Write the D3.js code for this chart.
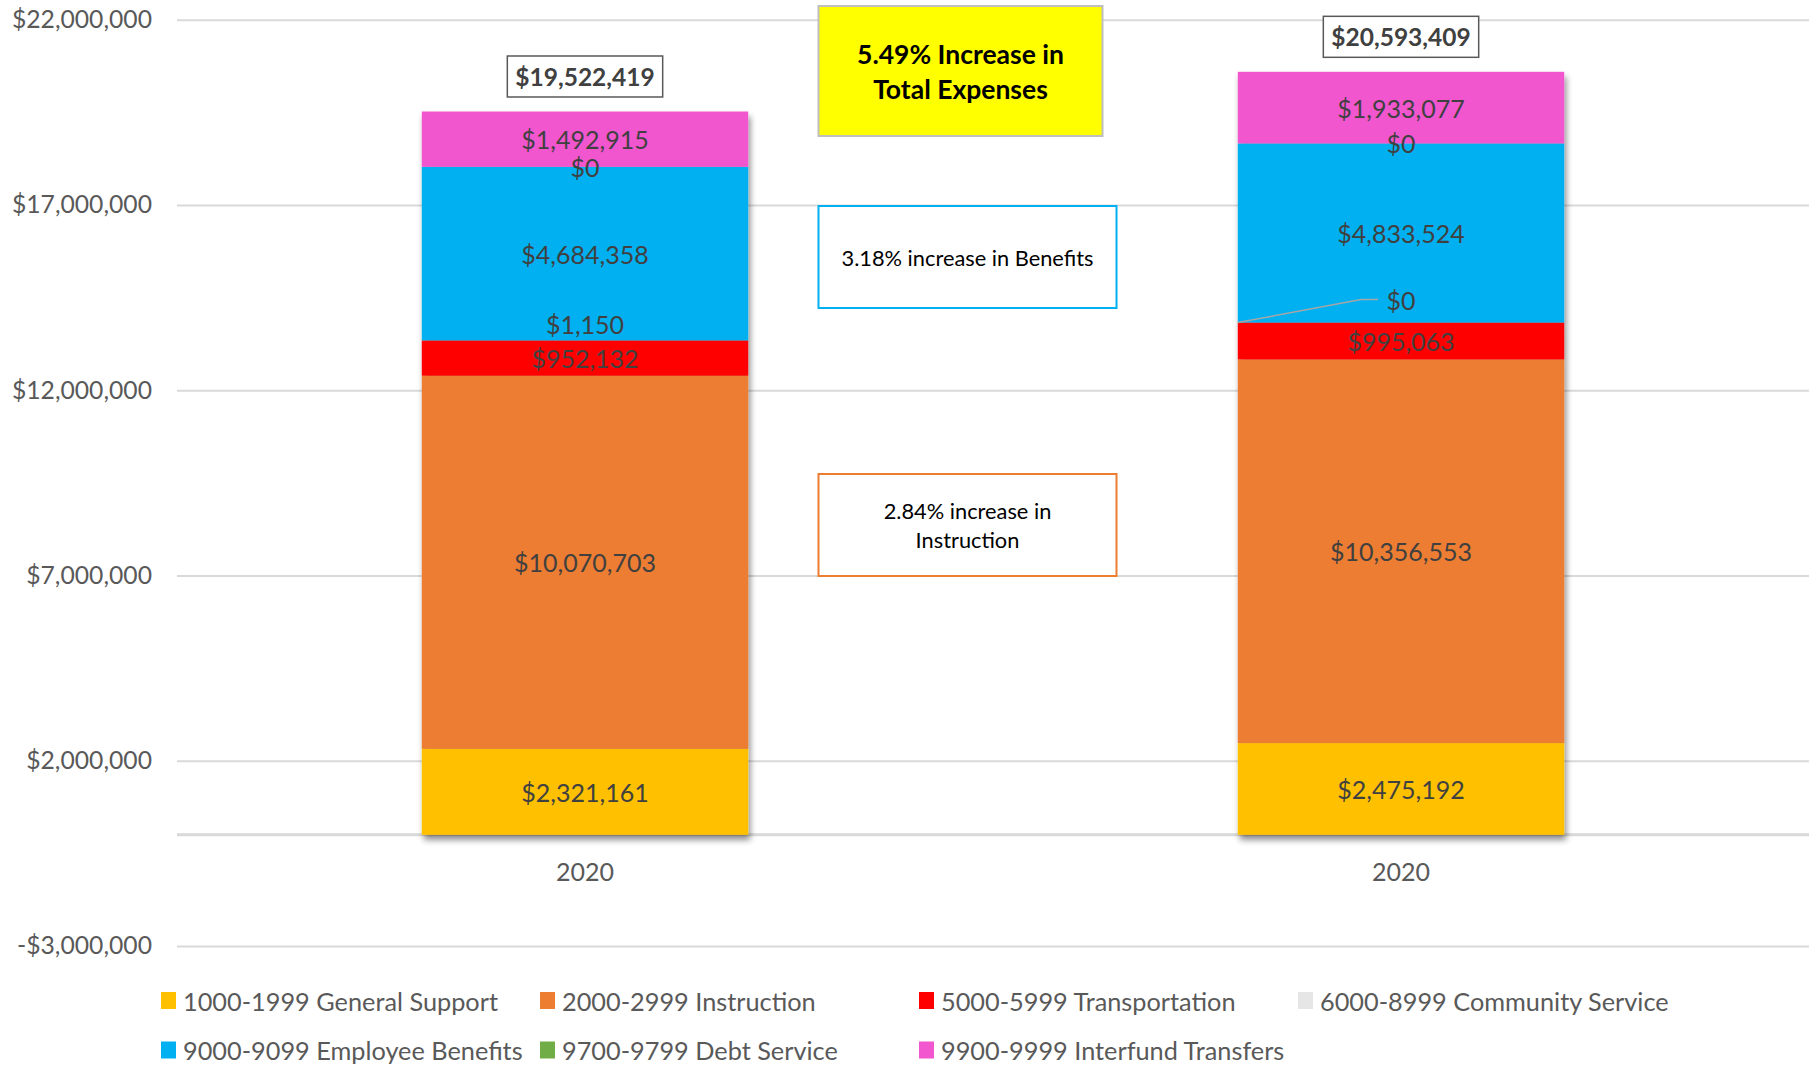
<!DOCTYPE html>
<html>
<head>
<meta charset="utf-8">
<script src="https://cdn.jsdelivr.net/npm/d3@7"></script>
<style>
  body { margin: 0; background: #fff; }
  svg { display: block; font-family: Lato, "Open Sans", sans-serif; }
</style>
</head>
<body>
<svg id="chart" width="1818" height="1067"></svg>
<script>
// Chart data
const years = ["2020", "2020"];
const series = [
    "1000-1999 General Support",
    "2000-2999 Instruction",
    "5000-5999 Transportation",
    "6000-8999 Community Service",
    "9000-9099 Employee Benefits",
    "9700-9799 Debt Service",
    "9900-9999 Interfund Transfers"
];
const generalSupport = [2321161, 2475192];
const instruction = [10070703, 10356553];
const transportation = [952132, 995063];
const communityService = [1150, 0];
const employeeBenefits = [4684358, 4833524];
const debtService = [0, 0];
const interfundTransfers = [1492915, 1933077];
const totals = [19522419, 20593409];
const tickValues = [-3000000, 2000000, 7000000, 12000000, 17000000, 22000000];
const notes = [
    ["5.49% Increase in", "Total Expenses"],
    ["3.18% increase in Benefits"],
    ["2.84% increase in", "Instruction"]
];

const colors = ["#FFC000", "#ED7D31", "#FF0000", "#E7E6E6", "#00B0F0", "#70AD47", "#F257CF"];
const columns = [generalSupport, instruction, transportation, communityService,
                 employeeBenefits, debtService, interfundTransfers];

// Build rows for the stack layout
const rows = years.map((y, i) => {
    let r = { idx: i };
    series.forEach((s, j) => r[s] = columns[j][i]);
    return r;
});

const svg = d3.select("#chart");
const left = 177, right = 1809;

let x = d3.scaleBand()
    .domain(d3.range(years.length))
    .range([left, right])
    .paddingInner(0.6)
    .paddingOuter(0.3);

let y = d3.scaleLinear()
    .domain([-3000000, 22000000])
    .range([946, 19.7]);

const money = d3.format("$,");
const fmt = v => v < 0 ? "-" + money(-v) : money(v);

// Shadow for bars
const defs = svg.append("defs");
defs.append("filter").attr("id", "shadow")
    .attr("x", "-10%").attr("y", "-10%").attr("width", "130%").attr("height", "130%")
    .append("feDropShadow")
    .attr("dx", 2).attr("dy", 5).attr("stdDeviation", 3)
    .attr("flood-color", "#000").attr("flood-opacity", 0.45);

// Gridlines and y labels
let yAxis = svg.append("g")
    .attr("transform", `translate(${left},0)`)
    .call(d3.axisLeft(y)
        .tickValues(tickValues)
        .tickFormat(fmt)
        .tickSizeInner(-(right - left))
        .tickSizeOuter(0)
        .tickPadding(25));
yAxis.select(".domain").remove();
yAxis.selectAll(".tick line").attr("stroke", "#D9D9D9").attr("stroke-width", 2);
yAxis.selectAll(".tick text")
    .attr("fill", "#595959")
    .style("font-size", "24.7px")
    .style("font-family", "Lato, sans-serif");

// Zero baseline
svg.append("line")
    .attr("x1", left).attr("x2", right)
    .attr("y1", y(0)).attr("y2", y(0))
    .attr("stroke", "#D9D9D9").attr("stroke-width", 3);

// Stacked bars
let stacked = d3.stack().keys(series)(rows);

let barGroup = svg.append("g").attr("filter", "url(#shadow)");
barGroup.selectAll("g")
    .data(stacked)
    .enter()
    .append("g")
    .attr("fill", (d, i) => colors[i])
    .selectAll("rect")
    .data(d => d)
    .enter()
    .append("rect")
    .attr("x", d => x(d.data.idx))
    .attr("width", x.bandwidth())
    .attr("y", d => y(d[1]))
    .attr("height", d => y(d[0]) - y(d[1]));

// Value labels (small segments are nudged like Excel does)
let labelGroup = svg.append("g");
stacked.forEach((layer, si) => {
    layer.forEach((d, bi) => {
        let cx = x(bi) + x.bandwidth() / 2;
        let cy = y((d[0] + d[1]) / 2);
        if (si === 3 && bi === 0) cy -= 16;
        if (si === 3 && bi === 1) {
            cy -= 23;
            let x0 = x(bi), y0 = y(d[1]);
            labelGroup.append("polyline")
                .attr("points", `${x0},${y0} ${cx - 40},${cy} ${cx - 23},${cy}`)
                .attr("fill", "none")
                .attr("stroke", "#A6A6A6")
                .attr("stroke-width", 1.5);
        }
        labelGroup.append("text")
            .attr("x", cx)
            .attr("y", cy)
            .attr("text-anchor", "middle")
            .attr("dominant-baseline", "central")
            .attr("fill", "#404040")
            .style("font-size", "25px")
            .text(fmt(d.data[layer.key]));
    });
});

// Totals in boxes
totals.forEach((t, i) => {
    let cx = x(i) + x.bandwidth() / 2;
    let cy = y(t) - 35;
    let g = svg.append("g");
    let txt = g.append("text")
        .attr("x", cx).attr("y", cy)
        .attr("text-anchor", "middle")
        .attr("dominant-baseline", "central")
        .attr("fill", "#404040")
        .style("font-size", "24.5px")
        .style("font-weight", "bold")
        .text(fmt(t));
    let bb = txt.node().getBBox();
    g.insert("rect", "text")
        .attr("x", bb.x - 8).attr("y", cy - 20.5)
        .attr("width", bb.width + 16).attr("height", 41)
        .attr("fill", "#fff")
        .attr("stroke", "#595959")
        .attr("stroke-width", 1.5);
});

// Annotation boxes
const noteBoxes = [
    { x: 818.5, y: 6, w: 284, h: 130, fill: "#FFFF00", stroke: "#BFBFBF", size: 26.5, bold: true, lh: 35 },
    { x: 818.5, y: 206, w: 298, h: 102, fill: "#fff", stroke: "#00B0F0", size: 21.8, bold: false, lh: 29 },
    { x: 818.5, y: 474, w: 298, h: 102, fill: "#fff", stroke: "#ED7D31", size: 21.8, bold: false, lh: 29 }
];
noteBoxes.forEach((b, i) => {
    svg.append("rect")
        .attr("x", b.x).attr("y", b.y)
        .attr("width", b.w).attr("height", b.h)
        .attr("fill", b.fill)
        .attr("stroke", b.stroke)
        .attr("stroke-width", 2);
    let lines = notes[i];
    let mid = b.y + b.h / 2;
    lines.forEach((line, k) => {
        svg.append("text")
            .attr("x", b.x + b.w / 2)
            .attr("y", mid + (k - (lines.length - 1) / 2) * b.lh)
            .attr("text-anchor", "middle")
            .attr("dominant-baseline", "central")
            .attr("fill", "#000")
            .style("font-size", b.size + "px")
            .style("font-weight", b.bold ? "bold" : "normal")
            .text(line);
    });
});

// Category labels
svg.append("g").selectAll("text")
    .data(years)
    .enter()
    .append("text")
    .attr("x", (d, i) => x(i) + x.bandwidth() / 2)
    .attr("y", 871)
    .attr("text-anchor", "middle")
    .attr("dominant-baseline", "central")
    .attr("fill", "#595959")
    .style("font-size", "25px")
    .text(d => d);

// Legend
let legend = svg.append("g");
series.forEach((s, i) => {
    let col = i < 4 ? i : i - 4;
    let row = i < 4 ? 0 : 1;
    let lx = 161 + col * 379;
    let ly = 1000.5 + row * 49.5;
    legend.append("rect")
        .attr("x", lx).attr("y", ly - 8.5)
        .attr("width", 15).attr("height", 17)
        .attr("fill", colors[i]);
    legend.append("text")
        .attr("x", lx + 22).attr("y", ly)
        .attr("dominant-baseline", "central")
        .attr("fill", "#595959")
        .style("font-size", "25.3px")
        .text(s);
});
</script>
</body>
</html>
